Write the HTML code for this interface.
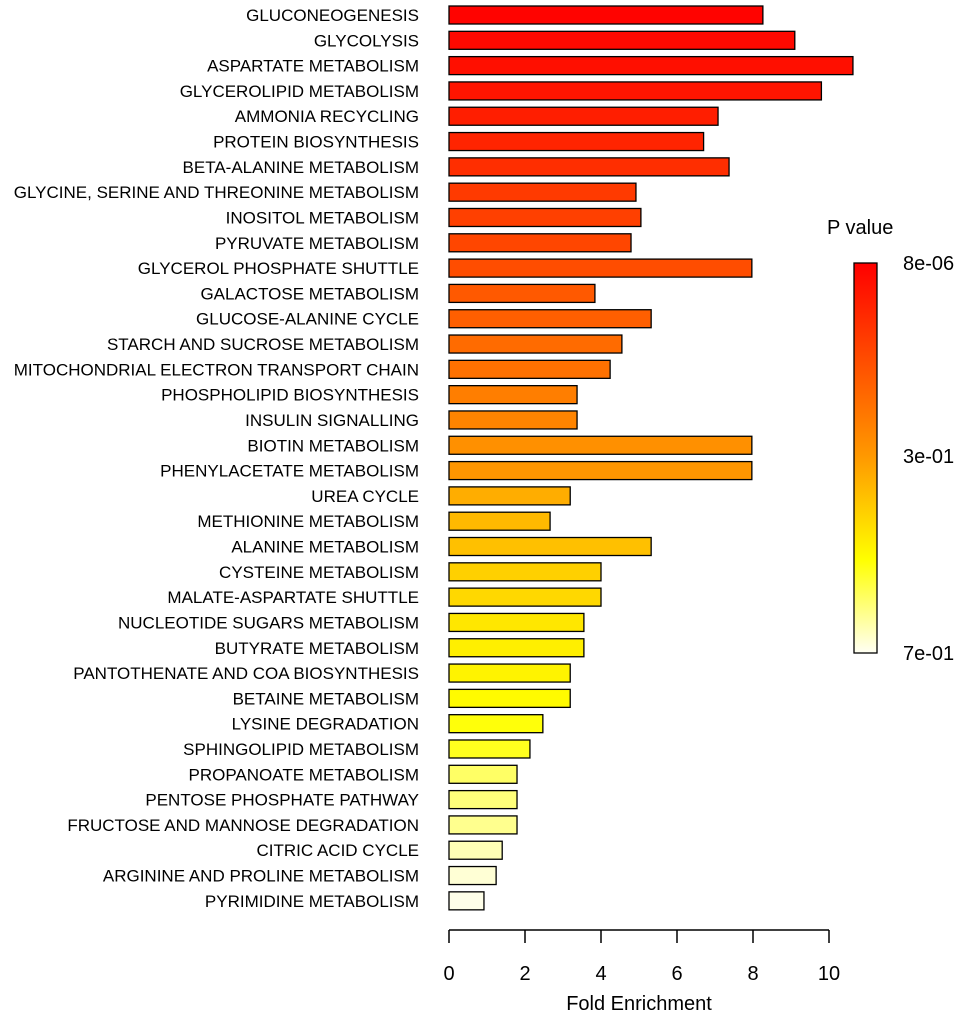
<!DOCTYPE html>
<html><head><meta charset="utf-8"><style>
body{margin:0;background:#fff;}
svg text{font-family:"Liberation Sans",sans-serif;fill:#000;}
</style></head><body>
<svg id="chart" width="970" height="1024">
<defs><linearGradient id="cbar" x1="0" y1="0" x2="0" y2="1">
<stop offset="0" stop-color="#ff0000"/><stop offset="0.5" stop-color="#ff9a00"/><stop offset="0.76" stop-color="#ffff00"/><stop offset="1" stop-color="#fffff4"/>
</linearGradient></defs>
</svg>
<script>
const categories=["GLUCONEOGENESIS","GLYCOLYSIS","ASPARTATE METABOLISM","GLYCEROLIPID METABOLISM","AMMONIA RECYCLING","PROTEIN BIOSYNTHESIS","BETA-ALANINE METABOLISM","GLYCINE, SERINE AND THREONINE METABOLISM","INOSITOL METABOLISM","PYRUVATE METABOLISM","GLYCEROL PHOSPHATE SHUTTLE","GALACTOSE METABOLISM","GLUCOSE-ALANINE CYCLE","STARCH AND SUCROSE METABOLISM","MITOCHONDRIAL ELECTRON TRANSPORT CHAIN","PHOSPHOLIPID BIOSYNTHESIS","INSULIN SIGNALLING","BIOTIN METABOLISM","PHENYLACETATE METABOLISM","UREA CYCLE","METHIONINE METABOLISM","ALANINE METABOLISM","CYSTEINE METABOLISM","MALATE-ASPARTATE SHUTTLE","NUCLEOTIDE SUGARS METABOLISM","BUTYRATE METABOLISM","PANTOTHENATE AND COA BIOSYNTHESIS","BETAINE METABOLISM","LYSINE DEGRADATION","SPHINGOLIPID METABOLISM","PROPANOATE METABOLISM","PENTOSE PHOSPHATE PATHWAY","FRUCTOSE AND MANNOSE DEGRADATION","CITRIC ACID CYCLE","ARGININE AND PROLINE METABOLISM","PYRIMIDINE METABOLISM"];
const foldEnrichment=[8.26,9.1,10.63,9.8,7.08,6.7,7.37,4.92,5.05,4.79,7.97,3.84,5.32,4.55,4.24,3.37,3.37,7.97,7.97,3.19,2.66,5.32,4.0,4.0,3.55,3.55,3.19,3.19,2.47,2.13,1.79,1.79,1.79,1.4,1.24,0.92];
const colorPos=[0.01,0.03,0.05,0.07,0.1,0.12,0.15,0.19,0.21,0.23,0.25,0.29,0.31,0.35,0.37,0.41,0.43,0.47,0.49,0.55,0.58,0.6,0.64,0.66,0.7,0.72,0.73,0.75,0.77,0.79,0.86,0.88,0.9,0.94,0.97,0.99];
const xTicks=[0,2,4,6,8,10];
const legendLabels=["8e-06","3e-01","7e-01"];
const NS="http://www.w3.org/2000/svg";
const svg=document.getElementById('chart');
const x0=449,pxPer=38,y0=15,rowStep=25.31,barH=18;
const xs=v=>x0+v*pxPer, ys=i=>y0+i*rowStep;
function col(t){let r,g,b;
 if(t<=0.5){r=255;g=154*t/0.5;b=0;}
 else if(t<=0.76){r=255;g=154+101*(t-0.5)/0.26;b=0;}
 else{r=255;g=255;b=244*(t-0.76)/0.24;}
 return `rgb(${r|0},${g|0},${b|0})`;}
function mk(tag,attrs,txt){const e=document.createElementNS(NS,tag);for(const k in attrs)e.setAttribute(k,attrs[k]);if(txt!==undefined)e.textContent=txt;svg.appendChild(e);return e;}
categories.forEach((c,i)=>{
 const r=mk('rect',{x:xs(0),y:ys(i)-barH/2,width:xs(foldEnrichment[i])-xs(0),height:barH,fill:col(colorPos[i]),stroke:'#000','stroke-width':1.3});
 
 
 const t=mk('text',{x:419,y:ys(i)+6,'text-anchor':'end','font-size':17},c);
 
 
});
const ax=mk('line',{x1:xs(0),x2:xs(10),y1:930,y2:930,stroke:'#000','stroke-width':1.5});


xTicks.forEach(v=>{
 const l=mk('line',{x1:xs(v),x2:xs(v),y1:930,y2:943,stroke:'#000','stroke-width':1.5});
 
 
 const t=mk('text',{x:xs(v),y:980,'text-anchor':'middle','font-size':20},String(v));
 
 
});
const xt=mk('text',{x:xs(5),y:1010,'text-anchor':'middle','font-size':20},'Fold Enrichment');


const lt=mk('text',{x:827,y:234,'font-size':20},'P value');


const cb=mk('rect',{x:854,y:263,width:23,height:390,fill:'url(#cbar)',stroke:'#000','stroke-width':1.3});


legendLabels.forEach((s,k)=>{
 const t=mk('text',{x:903,y:[270,463,660][k],'font-size':20},s);
 
 
});
</script>
</body></html>
